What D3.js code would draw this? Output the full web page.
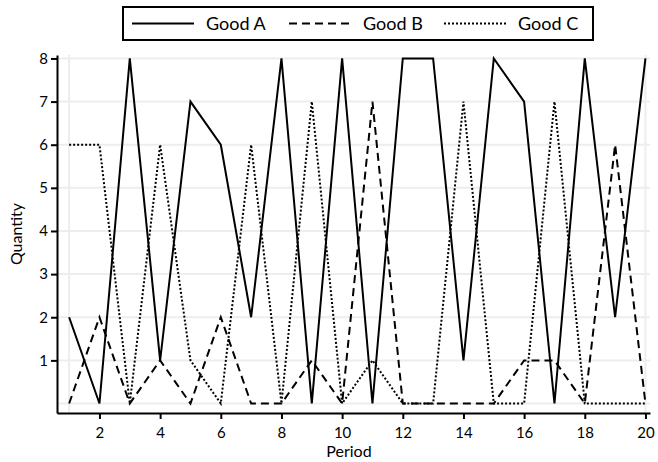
<!DOCTYPE html>
<html>
<head>
<meta charset="utf-8">
<script src="https://cdn.jsdelivr.net/npm/d3@7"></script>
<style>
  body { margin: 0; background: #fff; }
  svg text { font-family: Lato, "Noto Sans", sans-serif; fill: #000; }
  .line { fill: none; stroke: #000; stroke-width: 2; }
  .axis path, .axis line { stroke: #000; stroke-width: 2; }
</style>
</head>
<body>
<script>
/********************************************************/
// data
const periods = [1, 2, 3, 4, 5, 6, 7, 8, 9, 10, 11, 12, 13, 14, 15, 16, 17, 18, 19, 20];
const goodA = [2, 0, 8, 1, 7, 6, 2, 8, 0, 8, 0, 8, 8, 1, 8, 7, 0, 8, 2, 8];
const goodB = [0, 2, 0, 1, 0, 2, 0, 0, 1, 0, 7, 0, 0, 0, 0, 1, 1, 0, 6, 0];
const goodC = [6, 6, 0, 6, 1, 0, 6, 0, 7, 0, 1, 0, 0, 7, 0, 0, 7, 0, 0, 0];
const seriesNames = ["Good A", "Good B", "Good C"];
const xTicks = [2, 4, 6, 8, 10, 12, 14, 16, 18, 20];
const yTicks = [1, 2, 3, 4, 5, 6, 7, 8];

/********************************************************/
// SVG area
const svgWidth = 658;
const svgHeight = 462;

const chartMargin = {
  top: 55,
  right: 8,
  bottom: 49,
  left: 57,
};

const chartWidth = svgWidth - chartMargin.left - chartMargin.right;
const chartHeight = svgHeight - chartMargin.top - chartMargin.bottom;

const svg = d3
  .select("body")
  .append("svg")
  .attr("width", svgWidth)
  .attr("height", svgHeight);

const chartGroup = svg
  .append("g")
  .attr("transform", `translate(${chartMargin.left}, ${chartMargin.top})`);

/************** scales ************/
let xScale = d3.scaleLinear().domain([0.6, 20.15]).range([0, chartWidth]);
let yScale = d3.scaleLinear().domain([-0.22, 8.08]).range([chartHeight, 0]);

/************** grid ************/
chartGroup
  .selectAll(".hgrid")
  .data([0].concat(yTicks))
  .enter()
  .append("line")
  .attr("x1", 0)
  .attr("x2", chartWidth)
  .attr("y1", (d) => yScale(d))
  .attr("y2", (d) => yScale(d))
  .attr("stroke", "#ededed")
  .attr("stroke-width", 2);

chartGroup
  .selectAll(".vgrid")
  .data([periods[0], periods[periods.length - 1]])
  .enter()
  .append("line")
  .attr("x1", (d) => xScale(d))
  .attr("x2", (d) => xScale(d))
  .attr("y1", 0)
  .attr("y2", chartHeight)
  .attr("stroke", "#ededed")
  .attr("stroke-width", 2);

/************** lines ************/
const rows = periods.map((p, i) => ({ period: p, a: goodA[i], b: goodB[i], c: goodC[i] }));
const dashes = [null, "8,5", "2,2"];
const keys = ["a", "b", "c"];

keys.forEach((k, i) => {
  let line = d3
    .line()
    .x((d) => xScale(d.period))
    .y((d) => yScale(d[k]));

  chartGroup
    .append("path")
    .classed("line", true)
    .attr("d", line(rows))
    .attr("stroke-dasharray", dashes[i]);
});

/************** axes ************/
let bottomAxis = d3.axisBottom(xScale).tickValues(xTicks).tickSize(6).tickPadding(8).tickSizeOuter(0);
let leftAxis = d3.axisLeft(yScale).tickValues(yTicks).tickSize(6).tickPadding(3).tickSizeOuter(0);

chartGroup
  .append("g")
  .classed("axis", true)
  .attr("transform", `translate(0, ${chartHeight})`)
  .call(bottomAxis)
  .attr("font-size", "15px");

chartGroup
  .append("g")
  .classed("axis", true)
  .call(leftAxis)
  .attr("font-size", "15px");

chartGroup.selectAll(".axis text").attr("fill", "#000").style("font-family", "Lato, 'Noto Sans', sans-serif");

/************** axis titles ************/
svg
  .append("text")
  .text("Period")
  .attr("x", 349)
  .attr("y", 457)
  .attr("text-anchor", "middle")
  .attr("font-size", "16px");

svg
  .append("text")
  .text("Quantity")
  .attr("transform", `translate(22, ${chartMargin.top + chartHeight / 2}) rotate(-90)`)
  .attr("text-anchor", "middle")
  .attr("font-size", "16px");

/************** legend ************/
const legend = svg.append("g");

legend
  .append("rect")
  .attr("x", 123)
  .attr("y", 7)
  .attr("width", 470)
  .attr("height", 33)
  .attr("fill", "#fff")
  .attr("stroke", "#000")
  .attr("stroke-width", 2);

const legendX = [132, 289, 444];

seriesNames.forEach((name, i) => {
  legend
    .append("line")
    .attr("x1", legendX[i])
    .attr("x2", legendX[i] + 62)
    .attr("y1", 23.5)
    .attr("y2", 23.5)
    .attr("stroke", "#000")
    .attr("stroke-width", 2)
    .attr("stroke-dasharray", dashes[i]);

  legend
    .append("text")
    .text(name)
    .attr("x", legendX[i] + 74)
    .attr("y", 29.5)
    .attr("font-size", "18px");
});
</script>
</body>
</html>
